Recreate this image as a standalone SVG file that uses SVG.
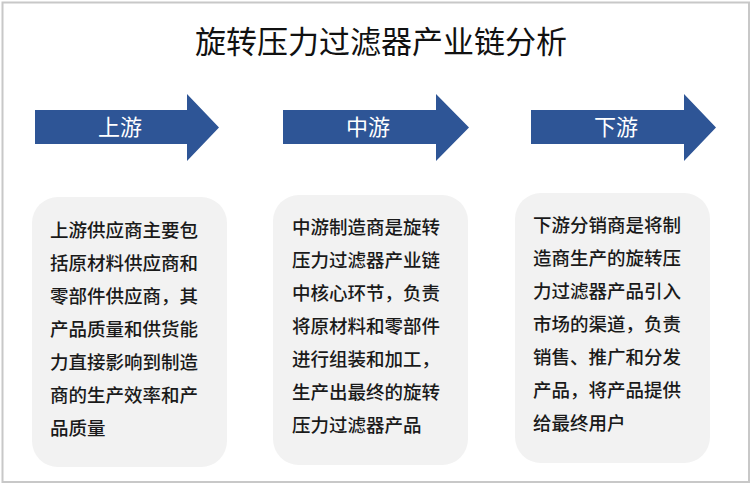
<svg xmlns="http://www.w3.org/2000/svg" width="754" height="495" viewBox="0 0 754 495">
<style>
.t{font-family:"Noto Sans CJK SC","Noto Sans",sans-serif;}
.title{font-size:31px;fill:#111;text-anchor:middle;font-weight:normal;}
.arr{fill:#2E5596;}
.al{font-size:22px;fill:#fff;text-anchor:middle;font-weight:normal;}
.box{fill:#F2F2F2;}
.bt{font-size:18.5px;fill:#1a1a1a;font-weight:500;}
</style>
<rect x="2.5" y="2.5" width="746.5" height="479.5" fill="#fff" stroke="#C8C8C8" stroke-width="2"/>
<text class="t title" x="381" y="53">旋转压力过滤器产业链分析</text>
<g id="arrow-up">
<polygon class="arr" points="35,110 187,110 187,94 219,127.5 187,161 187,144 35,144"/>
<text class="t al" x="120" y="135">上游</text>
</g>
<g id="arrow-mid">
<polygon class="arr" points="283,110 436,110 436,94 469,127.5 436,161 436,144 283,144"/>
<text class="t al" x="368" y="135">中游</text>
</g>
<g id="arrow-down">
<polygon class="arr" points="531,110 684,110 684,94 716,127.5 684,161 684,144 531,144"/>
<text class="t al" x="616" y="135">下游</text>
</g>
<g id="box-up">
<rect class="box" x="32" y="197" width="195" height="270" rx="26"/>
<text class="t bt">
<tspan x="50" y="237">上游供应商主要包</tspan>
<tspan x="50" y="270">括原材料供应商和</tspan>
<tspan x="50" y="303">零部件供应商，其</tspan>
<tspan x="50" y="336">产品质量和供货能</tspan>
<tspan x="50" y="369">力直接影响到制造</tspan>
<tspan x="50" y="402">商的生产效率和产</tspan>
<tspan x="50" y="435">品质量</tspan>
</text>
</g>
<g id="box-mid">
<rect class="box" x="273" y="195" width="195" height="270" rx="26"/>
<text class="t bt">
<tspan x="292" y="234">中游制造商是旋转</tspan>
<tspan x="292" y="267">压力过滤器产业链</tspan>
<tspan x="292" y="300">中核心环节，负责</tspan>
<tspan x="292" y="333">将原材料和零部件</tspan>
<tspan x="292" y="366">进行组装和加工，</tspan>
<tspan x="292" y="399">生产出最终的旋转</tspan>
<tspan x="292" y="432">压力过滤器产品</tspan>
</text>
</g>
<g id="box-down">
<rect class="box" x="515" y="193" width="195" height="270" rx="26"/>
<text class="t bt">
<tspan x="533" y="232">下游分销商是将制</tspan>
<tspan x="533" y="265">造商生产的旋转压</tspan>
<tspan x="533" y="298">力过滤器产品引入</tspan>
<tspan x="533" y="331">市场的渠道，负责</tspan>
<tspan x="533" y="364">销售、推广和分发</tspan>
<tspan x="533" y="397">产品，将产品提供</tspan>
<tspan x="533" y="430">给最终用户</tspan>
</text>
</g>
<g id="connectors"></g>
</svg>
